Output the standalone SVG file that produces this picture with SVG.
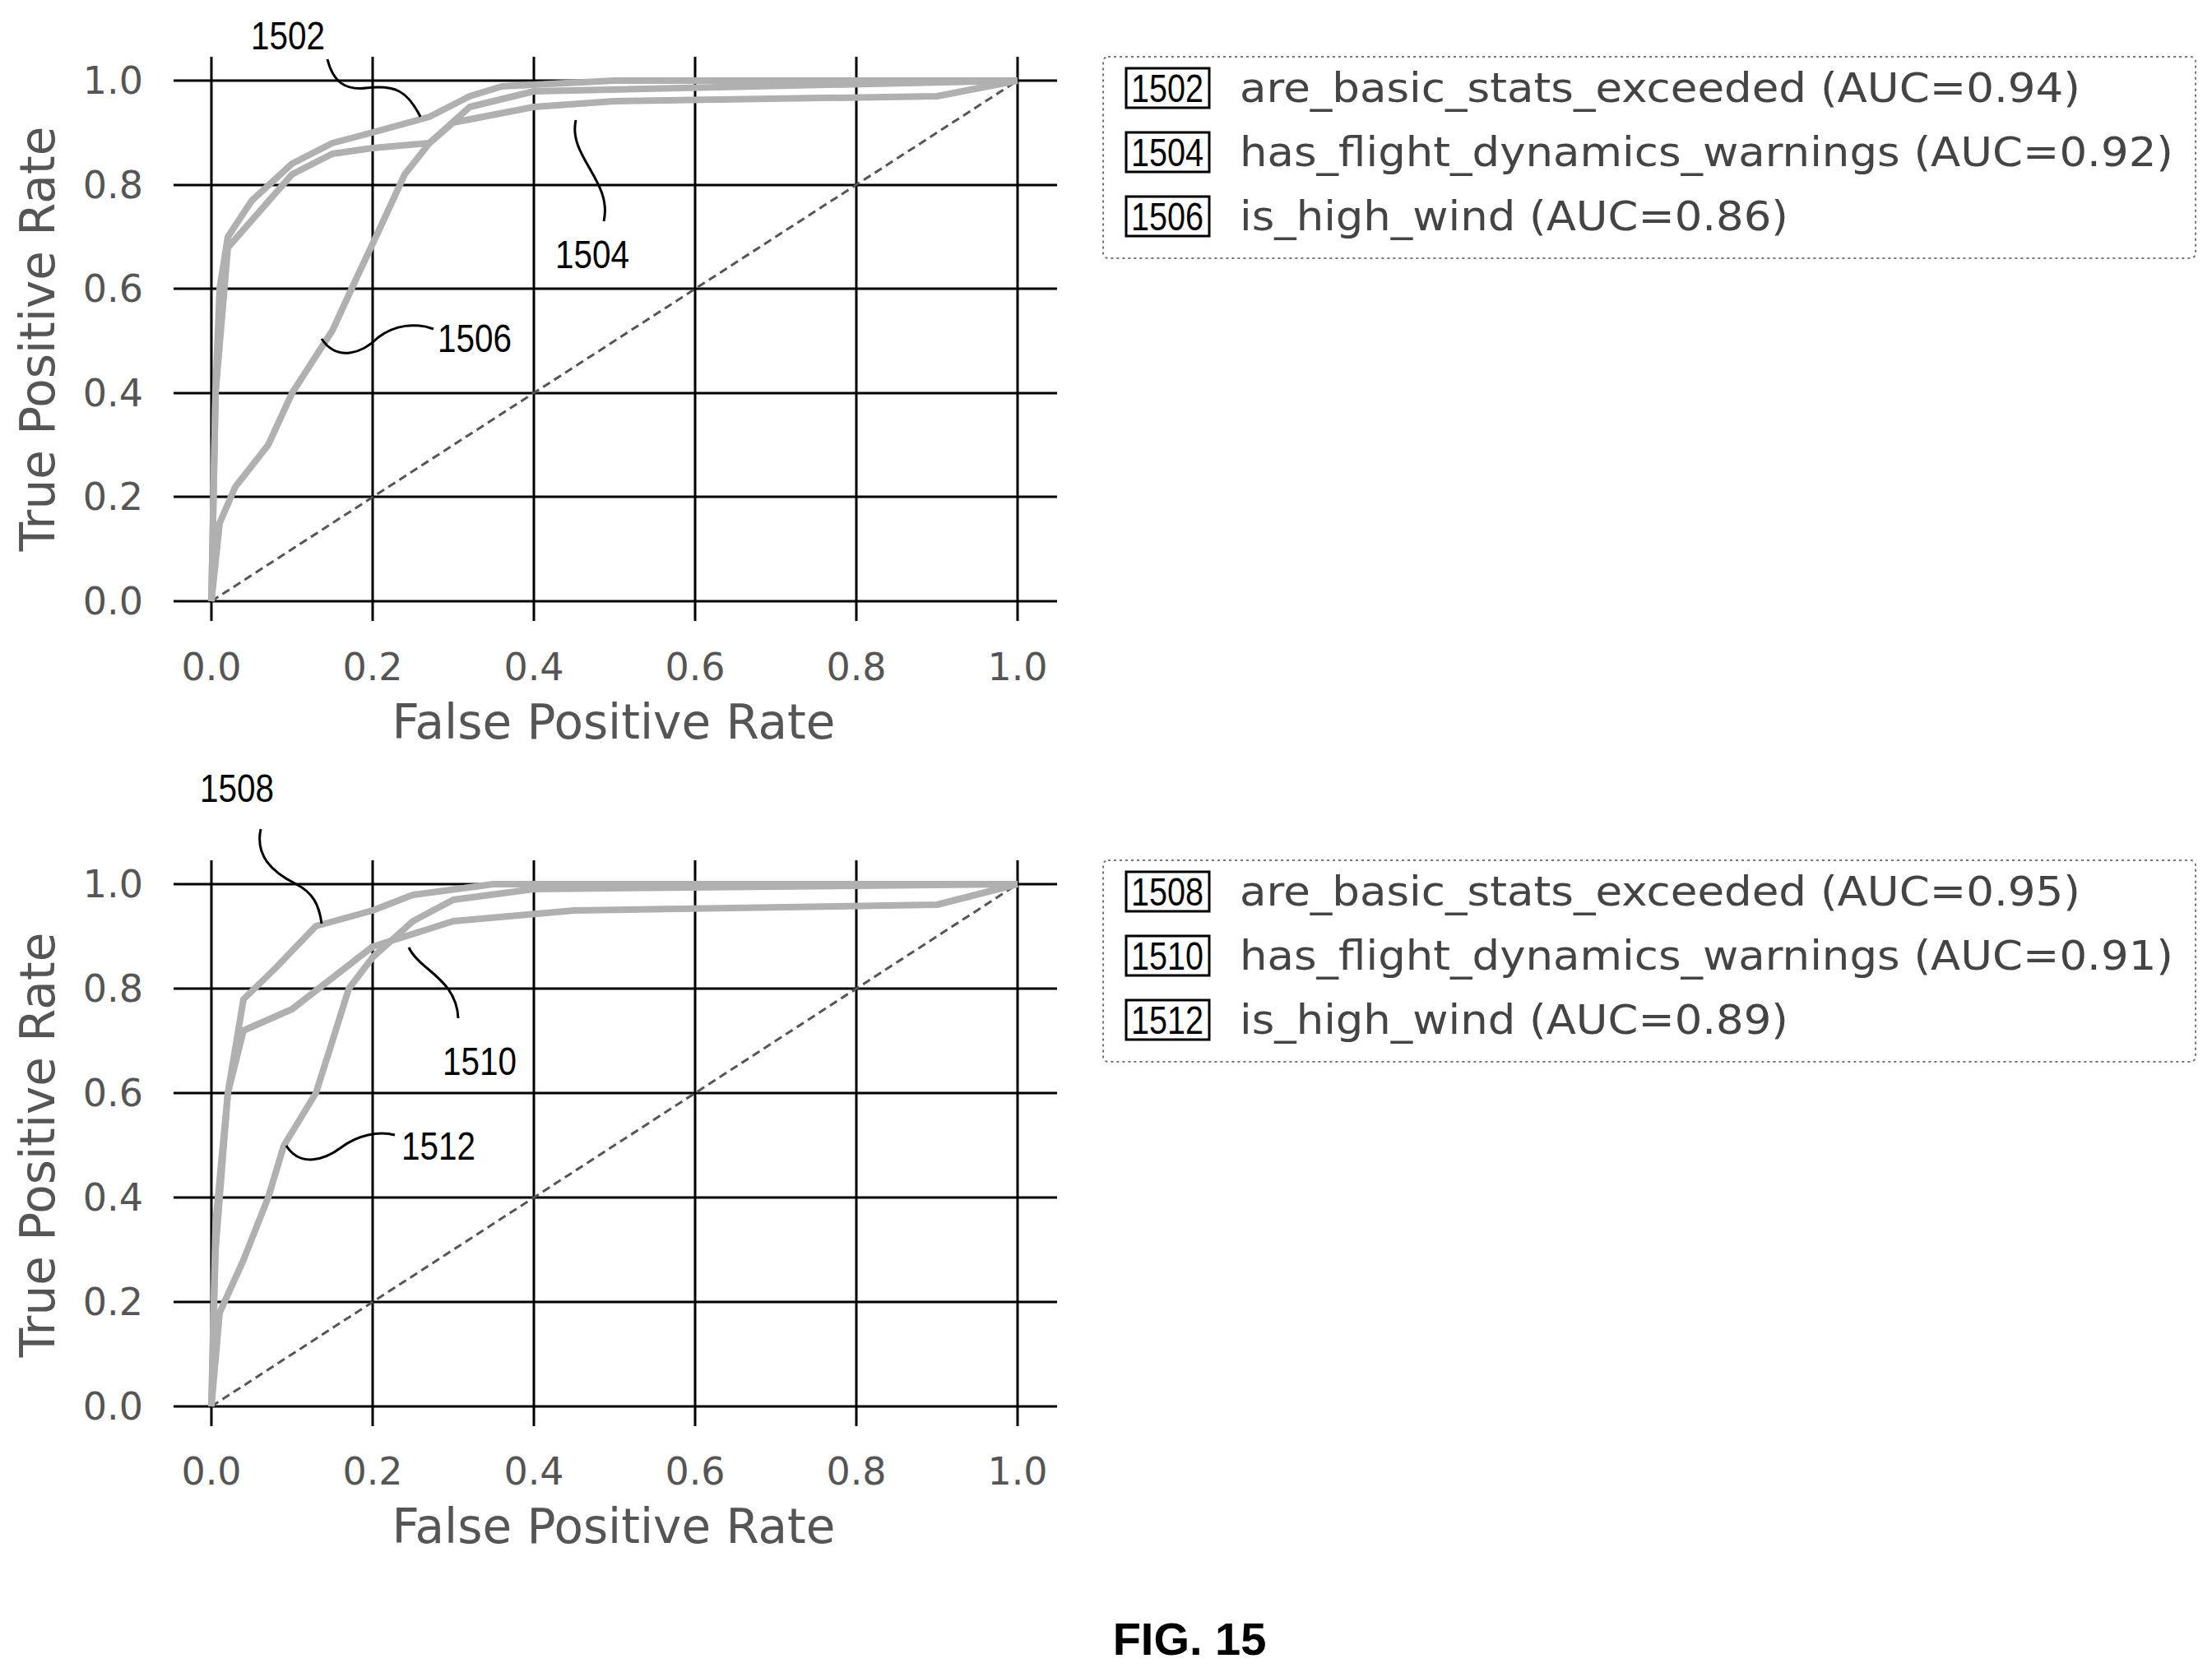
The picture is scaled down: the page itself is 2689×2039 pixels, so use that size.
<svg xmlns="http://www.w3.org/2000/svg" width="2689" height="2039" viewBox="0 0 2689 2039">
<style>
.grid{stroke:#000;stroke-width:3;fill:none}
.tick{font-family:"DejaVu Sans",sans-serif;font-size:46px;fill:#555}
.axl{font-family:"DejaVu Sans",sans-serif;font-size:58px;fill:#555}
.curve{fill:none;stroke:#b0b0b0;stroke-width:8;stroke-linejoin:round}
.diag{fill:none;stroke:#555;stroke-width:3;stroke-dasharray:10 6}
.lead{fill:none;stroke:#000;stroke-width:3}
.ref{font-family:"Liberation Sans",sans-serif;font-size:48px;fill:#000}
.leg{font-family:"DejaVu Sans",sans-serif;font-size:50px;fill:#444}
.lbox{fill:#fff;stroke:#000;stroke-width:3}
.frame{fill:#fff;stroke:#777;stroke-width:2;stroke-dasharray:3 4}
</style>
<rect width="2689" height="2039" fill="#fff"/>
<g id="plot1">
<g class="grid">
<path d="M211,98H1285M211,225H1285M211,351H1285M211,478H1285M211,604H1285M211,731H1285"/>
<path d="M257,69V755M453,69V755M649,69V755M845,69V755M1041,69V755M1237,69V755"/>
</g>
<g class="tick" text-anchor="end">
<text x="174" y="114">1.0</text><text x="174" y="241">0.8</text><text x="174" y="367">0.6</text><text x="174" y="494">0.4</text><text x="174" y="620">0.2</text><text x="174" y="747">0.0</text>
</g>
<g class="tick" text-anchor="middle">
<text x="257" y="827">0.0</text><text x="453" y="827">0.2</text><text x="649" y="827">0.4</text><text x="845" y="827">0.6</text><text x="1041" y="827">0.8</text><text x="1237" y="827">1.0</text>
</g>
<text class="axl" x="746" y="898" text-anchor="middle">False Positive Rate</text>
<text class="axl" transform="translate(66,412) rotate(-90)" text-anchor="middle">True Positive Rate</text>
<path class="diag" d="M257,731L1237,98"/>
<path id="c1502" class="curve" d="M257,731L262,478L267,351L277,288L306,244L355,199L404,174L453,161L522,142L571,117L610,105L747,98L1237,98"/>
<path id="c1504" class="curve" d="M257,731L262,478L277,301L355,212L404,187L453,180L522,174L551,149L649,130L747,123L1139,117L1237,98"/>
<path id="c1506" class="curve" d="M257,731L267,636L286,592L326,541L355,478L384,433L404,402L433,339L463,275L492,212L522,174L571,130L649,111L1237,98"/>
</g>
<g id="legend1">
<rect class="frame" x="1341" y="69" width="1328" height="245" rx="6"/>
<rect class="lbox" x="1369" y="83" width="101" height="48"/><text class="ref" x="1419" y="124" text-anchor="middle" textLength="88" lengthAdjust="spacingAndGlyphs">1502</text>
<text class="leg" x="1507" y="124" textLength="1022" lengthAdjust="spacingAndGlyphs">are_basic_stats_exceeded (AUC=0.94)</text>
<rect class="lbox" x="1369" y="161" width="101" height="48"/><text class="ref" x="1419" y="202" text-anchor="middle" textLength="88" lengthAdjust="spacingAndGlyphs">1504</text>
<text class="leg" x="1507" y="202" textLength="1135" lengthAdjust="spacingAndGlyphs">has_flight_dynamics_warnings (AUC=0.92)</text>
<rect class="lbox" x="1369" y="239" width="101" height="48"/><text class="ref" x="1419" y="280" text-anchor="middle" textLength="88" lengthAdjust="spacingAndGlyphs">1506</text>
<text class="leg" x="1507" y="280" textLength="667" lengthAdjust="spacingAndGlyphs">is_high_wind (AUC=0.86)</text>
</g>
<g id="labels1">
<text class="ref" x="350" y="60" text-anchor="middle" textLength="90" lengthAdjust="spacingAndGlyphs">1502</text>
<text class="ref" x="720" y="326" text-anchor="middle" textLength="90" lengthAdjust="spacingAndGlyphs">1504</text>
<text class="ref" x="577" y="428" text-anchor="middle" textLength="90" lengthAdjust="spacingAndGlyphs">1506</text>
</g>
<g id="plot2">
<g class="grid">
<path d="M211,1075H1285M211,1202H1285M211,1329H1285M211,1456H1285M211,1583H1285M211,1710H1285"/>
<path d="M257,1046V1734M453,1046V1734M649,1046V1734M845,1046V1734M1041,1046V1734M1237,1046V1734"/>
</g>
<g class="tick" text-anchor="end">
<text x="174" y="1091">1.0</text><text x="174" y="1218">0.8</text><text x="174" y="1345">0.6</text><text x="174" y="1472">0.4</text><text x="174" y="1599">0.2</text><text x="174" y="1726">0.0</text>
</g>
<g class="tick" text-anchor="middle">
<text x="257" y="1805">0.0</text><text x="453" y="1805">0.2</text><text x="649" y="1805">0.4</text><text x="845" y="1805">0.6</text><text x="1041" y="1805">0.8</text><text x="1237" y="1805">1.0</text>
</g>
<text class="axl" x="746" y="1876" text-anchor="middle">False Positive Rate</text>
<text class="axl" transform="translate(66,1392) rotate(-90)" text-anchor="middle">True Positive Rate</text>
<path class="diag" d="M257,1710L1237,1075"/>
<path id="c1508" class="curve" d="M257,1710L262,1488L277,1329L296,1215L335,1177L384,1126L453,1107L502,1088L600,1075L1237,1075"/>
<path id="c1510" class="curve" d="M257,1710L262,1520L277,1329L296,1253L355,1227L404,1189L453,1151L551,1120L698,1107L1139,1100L1237,1075"/>
<path id="c1512" class="curve" d="M257,1710L267,1596L296,1532L326,1456L345,1393L384,1329L404,1266L424,1202L453,1164L502,1120L551,1094L649,1081L1237,1075"/>
</g>
<g id="legend2">
<rect class="frame" x="1341" y="1046" width="1328" height="245" rx="6"/>
<rect class="lbox" x="1369" y="1060" width="101" height="48"/><text class="ref" x="1419" y="1101" text-anchor="middle" textLength="88" lengthAdjust="spacingAndGlyphs">1508</text>
<text class="leg" x="1507" y="1101" textLength="1022" lengthAdjust="spacingAndGlyphs">are_basic_stats_exceeded (AUC=0.95)</text>
<rect class="lbox" x="1369" y="1138" width="101" height="48"/><text class="ref" x="1419" y="1179" text-anchor="middle" textLength="88" lengthAdjust="spacingAndGlyphs">1510</text>
<text class="leg" x="1507" y="1179" textLength="1135" lengthAdjust="spacingAndGlyphs">has_flight_dynamics_warnings (AUC=0.91)</text>
<rect class="lbox" x="1369" y="1216" width="101" height="48"/><text class="ref" x="1419" y="1257" text-anchor="middle" textLength="88" lengthAdjust="spacingAndGlyphs">1512</text>
<text class="leg" x="1507" y="1257" textLength="667" lengthAdjust="spacingAndGlyphs">is_high_wind (AUC=0.89)</text>
</g>
<g id="labels2">
<text class="ref" x="288" y="975" text-anchor="middle" textLength="90" lengthAdjust="spacingAndGlyphs">1508</text>
<text class="ref" x="583" y="1307" text-anchor="middle" textLength="90" lengthAdjust="spacingAndGlyphs">1510</text>
<text class="ref" x="533" y="1410" text-anchor="middle" textLength="90" lengthAdjust="spacingAndGlyphs">1512</text>
</g>
<g id="connectors">
<path class="lead" d="M398,72C405,100 420,110 445,107C480,103 495,110 511,142"/>
<path class="lead" d="M700,146C690,190 745,220 734,269"/>
<path class="lead" d="M391,412C410,440 440,430 460,410C480,395 505,392 527,400"/>
<path class="lead" d="M317,1008C310,1040 330,1060 360,1075C380,1085 388,1100 391,1123"/>
<path class="lead" d="M497,1152C510,1180 555,1190 557,1238"/>
<path class="lead" d="M348,1393C365,1420 395,1410 415,1395C435,1380 460,1375 480,1380"/>
</g>
<text x="1446" y="2012" text-anchor="middle" font-family="Liberation Sans, sans-serif" font-weight="bold" font-size="56">FIG. 15</text>
</svg>
